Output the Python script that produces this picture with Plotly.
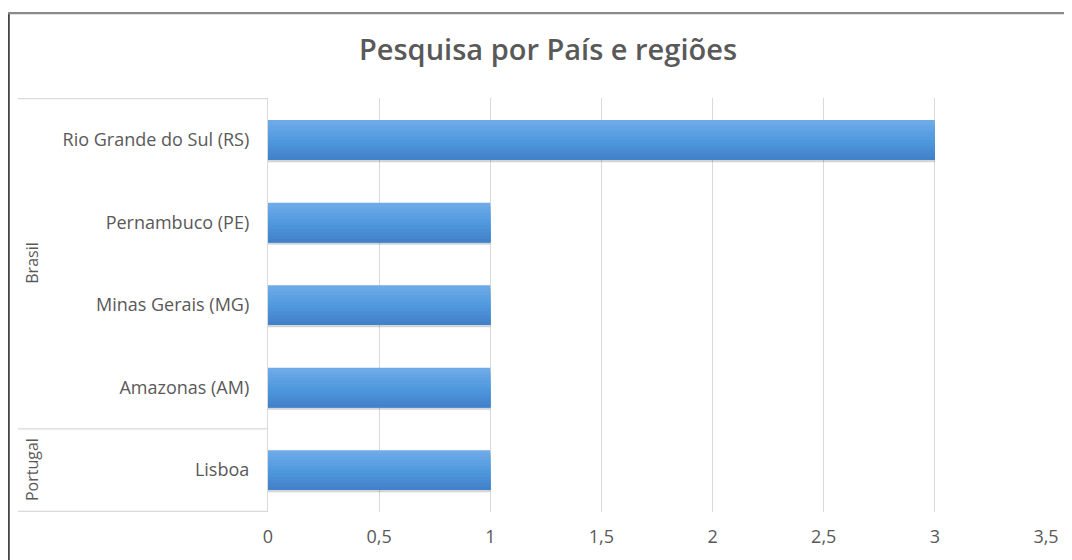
import plotly.graph_objects as go

# ---- data ----
regions = ["Rio Grande do Sul (RS)", "Pernambuco (PE)", "Minas Gerais (MG)", "Amazonas (AM)", "Lisboa"]
countries = ["Brasil", "Brasil", "Brasil", "Brasil", "Portugal"]
values = [3, 1, 1, 1, 1]
x_ticks = [0, 0.5, 1, 1.5, 2, 2.5, 3, 3.5]
x_tick_labels = ["0", "0,5", "1", "1,5", "2", "2,5", "3", "3,5"]
title_text = "Pesquisa por País e regiões"

FONT = "Open Sans"
GRAY_TXT = "#595959"
GRID = "#d9d9d9"

# page offset (default body margin) compensation
OFF = 8
W, H = 1072 - OFF, 560 - OFF
ML = 268 - OFF
MR = W - (1046 - OFF)
MT = 98 - OFF
MB = H - (525 - OFF)
PW = W - ML - MR
PH = H - MT - MB

def rx(px):  # reference pixel x -> paper
    return (px - OFF - ML) / PW

def ry(py):  # reference pixel y -> paper
    return 1 + (MT - (py - OFF)) / PH

fig = go.Figure()

BAR_W = 0.48
# drop shadow
fig.add_trace(go.Bar(
    x=values, y=regions, orientation="h",
    width=BAR_W, offset=-BAR_W / 2 + 0.03,
    marker=dict(color="rgba(60,60,60,0.22)", line=dict(width=0)),
    hoverinfo="skip", showlegend=False,
))
# gradient (light top -> darker bottom), cumulative layers to avoid seams
top_c = (110, 170, 232)
mid_c = (80, 153, 222)
bot_c = (66, 130, 202)
N = 12
for i in range(N):
    t = i / (N - 1)
    if t < 0.5:
        a, b, u = top_c, mid_c, t / 0.5
    else:
        a, b, u = mid_c, bot_c, (t - 0.5) / 0.5
    c = tuple(int(round(a[k] + (b[k] - a[k]) * u)) for k in range(3))
    bw = BAR_W / N
    fig.add_trace(go.Bar(
        x=values, y=regions, orientation="h",
        width=BAR_W - i * bw, offset=-BAR_W / 2 + i * bw,
        marker=dict(color="rgb(%d,%d,%d)" % c, line=dict(width=0)),
        hovertemplate="%{y}: %{x}<extra></extra>", showlegend=False,
    ))

shapes = []
# group separators in the category axis area
x_left = rx(18)
bounds = [-0.5]
for i in range(1, len(countries)):
    if countries[i] != countries[i - 1]:
        bounds.append(i - 0.5)
bounds.append(len(countries) - 0.5)
for b in bounds:
    shapes.append(dict(type="line", xref="paper", yref="y", x0=x_left, x1=0, y0=b, y1=b,
                       line=dict(color=GRID, width=1.3)))
# outer chart border (left and top)
shapes.append(dict(type="line", xref="paper", yref="paper",
                   x0=rx(8.6), x1=rx(8.6), y0=ry(10), y1=ry(600),
                   line=dict(color="#454545", width=2.4)))
shapes.append(dict(type="line", xref="paper", yref="paper",
                   x0=rx(8), x1=rx(1100), y0=ry(10.5), y1=ry(10.5),
                   line=dict(color="#8a8a8a", width=2.2)))

annotations = []
# group labels (rotated)
start = 0
for i in range(1, len(countries) + 1):
    if i == len(countries) or countries[i] != countries[start]:
        center = (start + i - 1) / 2
        annotations.append(dict(text=countries[start], xref="paper", yref="y",
                                x=rx(32), y=center, showarrow=False, textangle=-90,
                                font=dict(family=FONT, size=16, color=GRAY_TXT),
                                xanchor="center", yanchor="middle"))
        start = i

fig.update_layout(
    width=W, height=H,
    margin=dict(l=ML, r=MR, t=MT, b=MB),
    paper_bgcolor="white", plot_bgcolor="white",
    barmode="overlay",
    title=dict(text=title_text, x=(548 - OFF) / W, xanchor="center",
               y=1 - (50 - OFF) / H, yanchor="middle",
               font=dict(family=FONT, size=29, color=GRAY_TXT, weight=600)),
    xaxis=dict(range=[0, 3.5], tickvals=x_ticks, ticktext=x_tick_labels,
               showgrid=True, gridcolor=GRID, gridwidth=1.2, zeroline=False,
               showline=False, ticks="", ticklabelstandoff=12,
               tickfont=dict(family=FONT, size=18, color=GRAY_TXT), fixedrange=True),
    yaxis=dict(type="category", categoryorder="array", categoryarray=regions,
               autorange="reversed", showgrid=False, zeroline=False,
               showline=True, linecolor=GRID, linewidth=1.3, ticks="",
               ticklabelstandoff=14,
               tickfont=dict(family=FONT, size=18, color=GRAY_TXT), fixedrange=True),
    shapes=shapes,
    annotations=annotations,
    showlegend=False,
)

fig.write_html("out.html")
